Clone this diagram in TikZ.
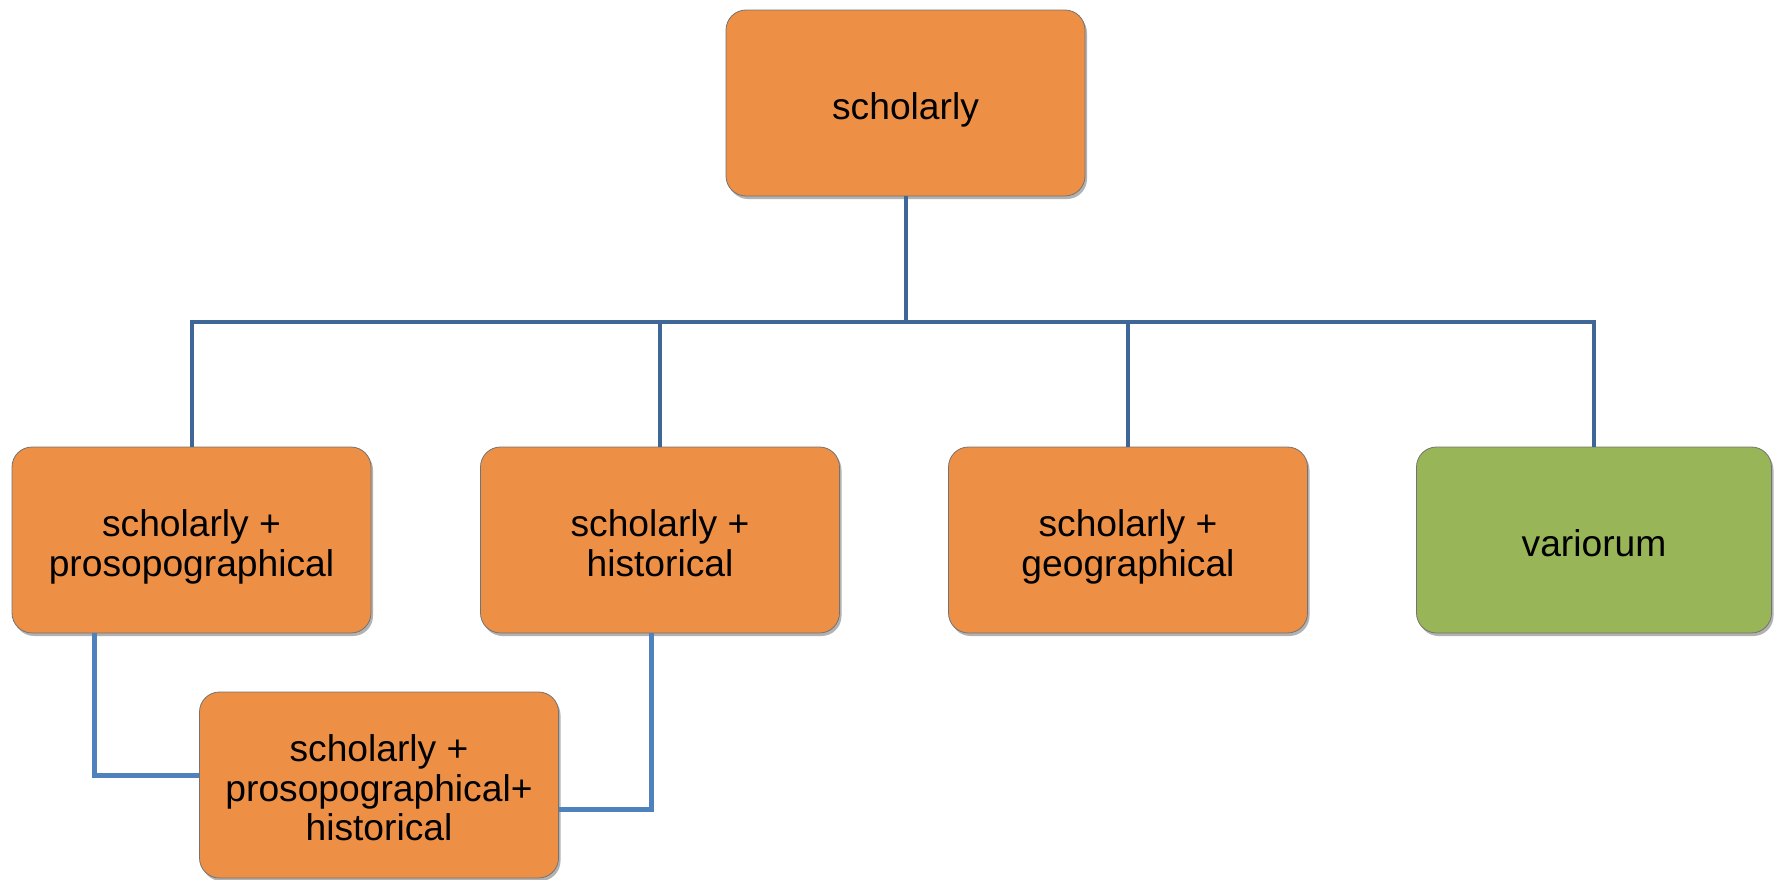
\documentclass[tikz,border=0pt]{standalone}
\usepackage{fontspec}
\setmainfont{Liberation Sans}
\usetikzlibrary{shadows}
\definecolor{boxorange}{RGB}{237,144,70}
\definecolor{boxgreen}{RGB}{152,182,87}
\definecolor{busblue}{RGB}{62,103,152}
\definecolor{linkblue}{RGB}{79,129,189}
\newcommand\mystrut{\rule[-8.75pt]{0pt}{39.5pt}}
\newcommand\topstrut{\rule[-8.75pt]{0pt}{50pt}}
\begin{document}
\begin{tikzpicture}[x=1pt,y=-1pt,
  box/.style={draw=black!55, line width=0.8pt, fill=boxorange, rounded corners=20pt,
    minimum width=359pt, minimum height=186pt, align=center, inner sep=0pt,
    font=\fontsize{37.2}{39.5}\selectfont,
    drop shadow={shadow xshift=2pt, shadow yshift=-3pt, opacity=0.3, fill=black}},
  greenbox/.style={box, fill=boxgreen},
  bus/.style={draw=busblue, line width=4pt},
  link/.style={draw=linkblue, line width=5pt}]
\useasboundingbox (0,0) rectangle (1777,879);
\node[box] (top) at (905.5,103) {\topstrut scholarly};
\node[box] (b1) at (191.5,540) {\topstrut scholarly +\\prosopographical\mystrut};
\node[box] (b2) at (660,540) {\topstrut scholarly +\\historical\mystrut};
\node[box] (b3) at (1128,540) {\topstrut scholarly +\\geographical\mystrut};
\node[greenbox, minimum width=355pt] (b4) at (1594,540) {\topstrut variorum};
\node[box] (b5) at (379,785) {\topstrut scholarly +\\prosopographical+\mystrut\\historical\mystrut};
\coordinate (bus) at (0,322);
\draw[bus] (top.south) -- (top.south |- bus);
\draw[bus, line cap=rect] (b1.north |- bus) -- (b4.north |- bus);
\draw[bus] (b1.north |- bus) -- (b1.north);
\draw[bus] (b2.north |- bus) -- (b2.north);
\draw[bus] (b3.north |- bus) -- (b3.north);
\draw[bus] (b4.north |- bus) -- (b4.north);
\draw[link] ([xshift=-97.5pt]b1.south) |- ([yshift=10pt]b5.west);
\draw[link] ([xshift=-9pt]b2.south) |- ([yshift=-24pt]b5.east);
\end{tikzpicture}
\end{document}
